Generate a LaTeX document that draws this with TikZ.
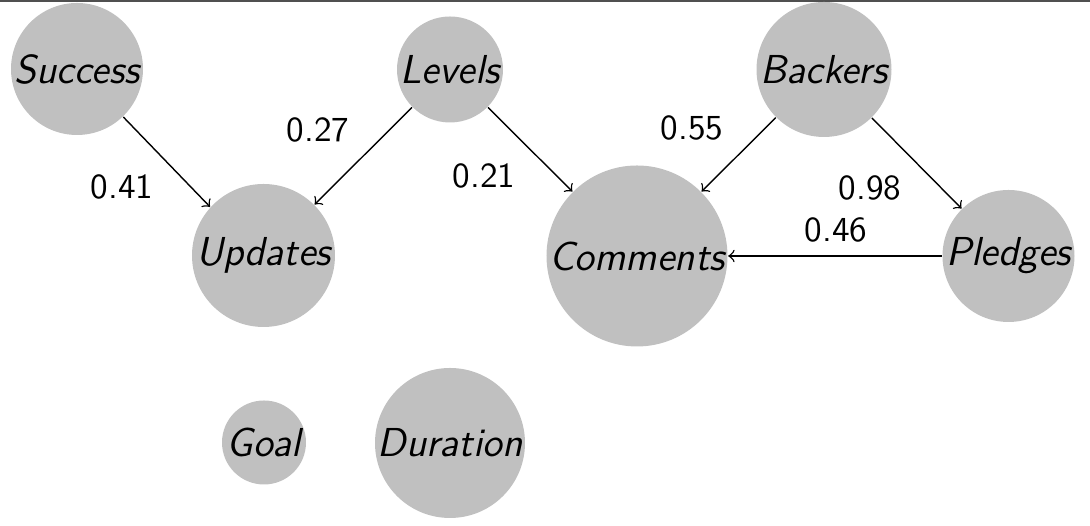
\documentclass[tikz,border=0pt]{standalone}
\definecolor{nodegray}{RGB}{192,192,192}
\definecolor{rulegray}{RGB}{80,80,80}
\tikzset{
  var/.style={circle, fill=nodegray, inner sep=0pt,
    font=\fontsize{11.5}{14}\selectfont\sffamily\slshape},
  weight/.style={font=\fontsize{10}{12}\selectfont\sffamily},
}
\begin{document}
\begin{tikzpicture}
    \useasboundingbox (0,0) rectangle (10.9,5.26);
    % Top rule
    \draw[rulegray, line width=0.6pt] (0,5.25) -- (10.9,5.25);

    % Variables
    \node[var, minimum size=1.32cm] (success) at (0.77,4.57) {Success};
    \node[var, minimum size=1.06cm] (levels) at (4.50,4.565) {Levels};
    \node[var, minimum size=1.35cm] (backers) at (8.24,4.565) {Backers};
    \node[var, minimum size=1.43cm] (updates) at (2.635,2.705) {Updates};
    \node[var, minimum size=1.81cm] (comments) at (6.37,2.70) {Comments};
    \node[var, minimum size=1.32cm] (pledges) at (10.085,2.70) {Pledges};
    \node[var, minimum size=0.84cm] (goal) at (2.64,0.835) {Goal};
    \node[var, minimum size=1.50cm] (duration) at (4.50,0.83) {Duration};

    % Arrows
    \draw[->] (success) -- (updates);
    \draw[->] (levels) -- (updates);
    \draw[->] (levels) -- (comments);
    \draw[->] (backers) -- (comments);
    \draw[->] (backers) -- (pledges);
    \draw[->] (pledges) -- (comments);

    % Weights
    \node[weight] (w41) at (1.22,3.39) {0.41};
    \node[weight] (w27) at (3.18,3.96) {0.27};
    \node[weight] (w21) at (4.84,3.50) {0.21};
    \node[weight] (w55) at (6.92,3.98) {0.55};
    \node[weight] (w98) at (8.70,3.38) {0.98};
    \node[weight] (w46) at (8.36,2.96) {0.46};
\end{tikzpicture}
\end{document}
